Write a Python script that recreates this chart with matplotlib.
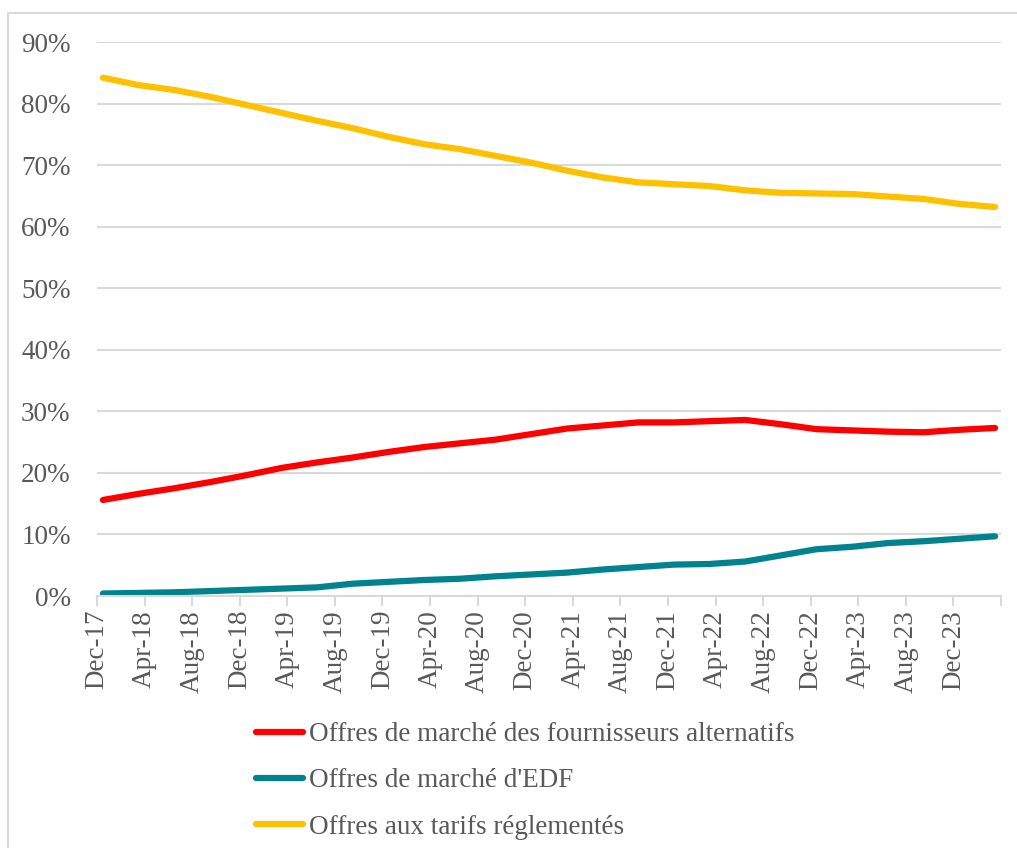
import matplotlib
matplotlib.use("Agg")
import matplotlib.pyplot as plt
from matplotlib.patches import Rectangle
import numpy as np

plt.rcParams['font.family'] = ['Liberation Serif', 'DejaVu Serif']

# quarterly data, Dec-17 .. Mar-24 (shares of residential sites)
tick_labels = ["Dec-17", "Apr-18", "Aug-18", "Dec-18", "Apr-19", "Aug-19", "Dec-19",
               "Apr-20", "Aug-20", "Dec-20", "Apr-21", "Aug-21", "Dec-21", "Apr-22",
               "Aug-22", "Dec-22", "Apr-23", "Aug-23", "Dec-23"]
alternatifs = [15.6, 16.6, 17.5, 18.5, 19.6, 20.8, 21.7, 22.5, 23.4, 24.2, 24.8, 25.4, 26.3,
               27.2, 27.7, 28.2, 28.2, 28.4, 28.6, 27.9, 27.1, 26.9, 26.7, 26.6, 27.0, 27.3]
edf_marche = [0.4, 0.5, 0.6, 0.8, 1.0, 1.2, 1.4, 2.0, 2.3, 2.6, 2.8, 3.2, 3.5,
              3.8, 4.3, 4.7, 5.1, 5.2, 5.6, 6.6, 7.6, 8.0, 8.6, 8.9, 9.3, 9.7]
tarifs = [84.2, 83.0, 82.2, 81.1, 79.8, 78.5, 77.2, 76.0, 74.6, 73.4, 72.6, 71.5, 70.4,
          69.1, 68.0, 67.2, 66.9, 66.6, 65.9, 65.5, 65.4, 65.3, 64.9, 64.5, 63.7, 63.2]
labels = ["Offres de marché des fournisseurs alternatifs",
          "Offres de marché d'EDF",
          "Offres aux tarifs réglementés"]
colors = ["#FF0000", "#00838F", "#FFC000"]

# x in months since Dec-17
months = 0.5 + 3 * np.arange(len(tarifs))

fig = plt.figure(figsize=(10.17, 8.48), dpi=100)
ax = fig.add_axes([97 / 1017, 1 - 596 / 848, (1001 - 97) / 1017, (596 - 42) / 848])

txt = "#595959"
grid = "#D9D9D9"
fs = 19.5

for series, lab, col in zip([alternatifs, edf_marche, tarifs], labels, colors):
    ax.plot(months, np.array(series) / 100, color=col, lw=4.5, label=lab,
            solid_capstyle='round', solid_joinstyle='round')

ax.set_xlim(0, 76)
ax.set_ylim(0, 0.9)
ax.set_yticks(np.arange(0, 0.91, 0.1))
ax.set_yticklabels([f"{int(round(v * 100))}%" for v in np.arange(0, 0.91, 0.1)])
ax.set_xticks(np.arange(0, 77, 4))
ax.set_xticklabels(tick_labels + [""], rotation=90)

ax.grid(axis='y', color=grid, lw=1.5)
ax.set_axisbelow(True)
for s in ["top", "right", "left"]:
    ax.spines[s].set_visible(False)
ax.spines["bottom"].set_color(grid)
ax.spines["bottom"].set_linewidth(1.5)
ax.tick_params(axis='y', length=0, pad=19, labelsize=fs, labelcolor=txt)
ax.tick_params(axis='x', length=7, width=1.5, color=grid, pad=3, labelsize=fs,
               labelcolor=txt)

leg = fig.legend(loc='upper left', bbox_to_anchor=(256 / 1017, 1 - 722 / 848),
                 frameon=False, fontsize=fs, handlelength=1.75, handletextpad=0.2,
                 labelspacing=0.79, borderpad=0, borderaxespad=0)
for t in leg.get_texts():
    t.set_color(txt)

# outer chart border
fig.patches.append(Rectangle((8 / 1017, -0.1), 1.2, 1 - 13 / 848 + 0.1,
                             transform=fig.transFigure, fill=False,
                             edgecolor=grid, lw=1.5))

fig.savefig("out.png", dpi=100)
